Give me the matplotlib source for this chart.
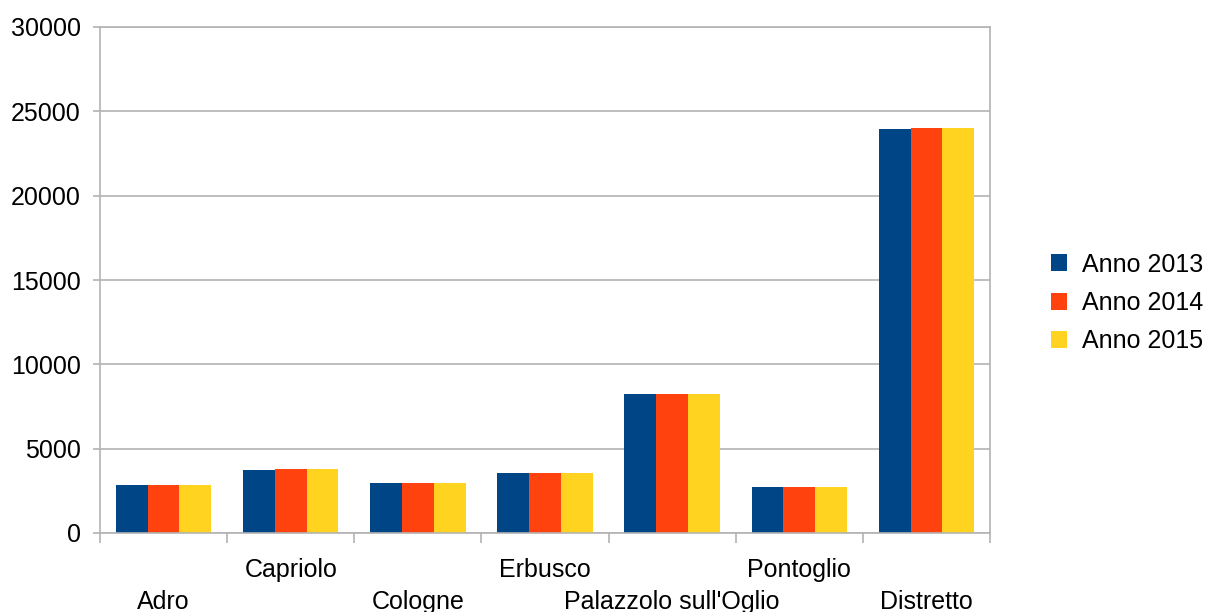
import numpy as np
import matplotlib
matplotlib.use("Agg")
from matplotlib import pyplot as plt

plt.rcParams['font.family'] = ['Liberation Sans', 'DejaVu Sans']

comuni = ["Adro", "Capriolo", "Cologne", "Erbusco", "Palazzolo sull'Oglio", "Pontoglio", "Distretto"]
anno_2013 = [2830, 3720, 2940, 3540, 8220, 2710, 23980]
anno_2014 = [2830, 3770, 2940, 3540, 8270, 2710, 24040]
anno_2015 = [2830, 3770, 2940, 3540, 8270, 2710, 24040]
serie = ["Anno 2013", "Anno 2014", "Anno 2015"]
colori = ["#004586", "#ff420e", "#ffd320"]

grid_col = "#b3b3b3"
fs = 18

fig = plt.figure(figsize=(12.1, 6.12), dpi=100)
ax = fig.add_axes([100 / 1210, 1 - 533 / 612, 890 / 1210, 506 / 612])

x = np.arange(len(comuni))
w = 0.25
for k, (vals, lab, col) in enumerate(zip([anno_2013, anno_2014, anno_2015], serie, colori)):
    ax.bar(x + (k - 1) * w, vals, width=w, color=col, label=lab, zorder=2)

ax.set_xlim(-0.5, len(comuni) - 0.5)
ax.set_ylim(0, 30000)
ax.set_yticks(np.arange(0, 30001, 5000))
ax.yaxis.grid(True, color=grid_col, linewidth=1.2, zorder=0)
ax.set_axisbelow(True)

# boundary ticks between categories, labels placed separately in two rows
ax.set_xticks(np.arange(-0.5, len(comuni), 1.0))
ax.set_xticklabels([])
ax.tick_params(axis='x', length=7, color=grid_col, width=1.2)
ax.tick_params(axis='y', length=5, color=grid_col, width=1.2, labelsize=fs, pad=9)

for s in ax.spines.values():
    s.set_color(grid_col)
    s.set_linewidth(1.2)

for i, nome in enumerate(comuni):
    off = -49.5 if i % 2 == 0 else -26.5
    ax.annotate(nome, xy=(i, 0), xycoords=('data', 'axes fraction'),
                xytext=(0, off), textcoords='offset points',
                ha='center', va='center', fontsize=fs)

fig.legend(loc='center left', bbox_to_anchor=(1033 / 1210, 1 - 303 / 612),
           frameon=False, fontsize=fs, handlelength=0.65, handleheight=0.65,
           handletextpad=0.6, labelspacing=0.58, borderpad=0.2)

fig.savefig("out.png", dpi=100)
